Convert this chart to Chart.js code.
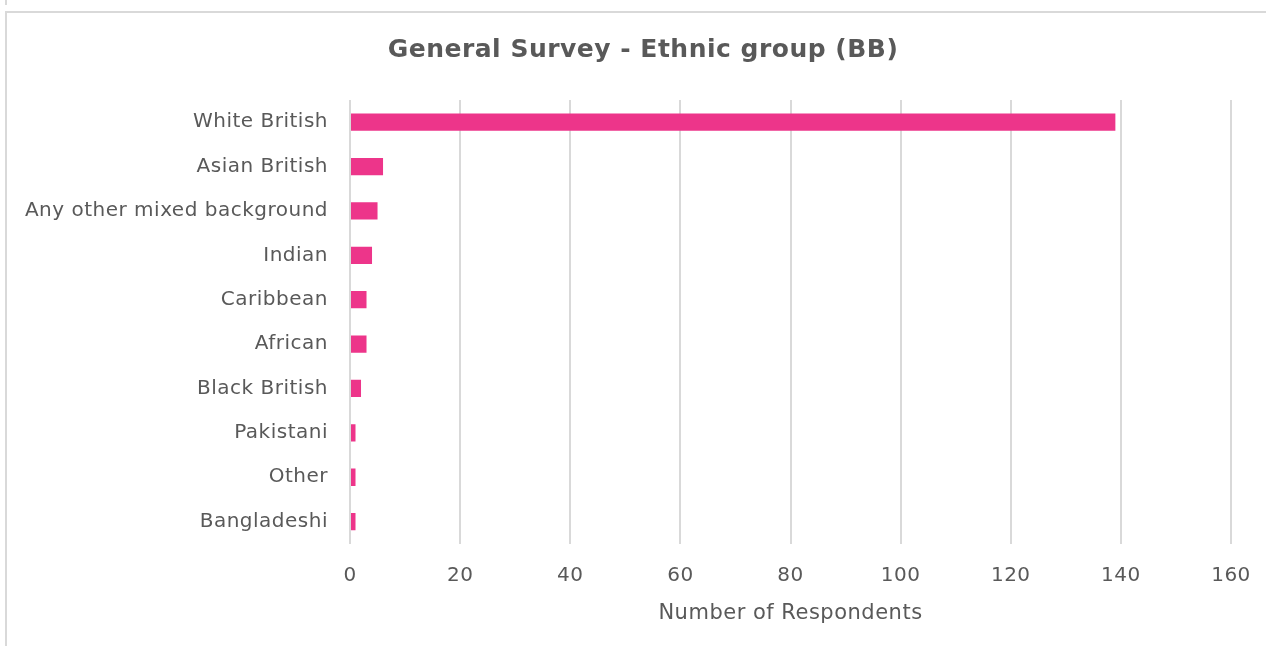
<!DOCTYPE html>
<html lang="en">
<head>
    <meta charset="UTF-8">
    <title>General Survey - Ethnic group (BB)</title>
    <script src="https://cdn.jsdelivr.net/npm/chart.js@4.4.0/dist/chart.umd.min.js"></script>
    <style>
        body {
            margin: 0;
            padding: 0;
            background: #ffffff;
            overflow: hidden;
        }
        .prev-frame {
            position: absolute;
            left: 5px;
            top: 0;
            width: 0;
            height: 5px;
            border-left: 2px solid #d9d9d9;
        }
        .frame {
            position: absolute;
            left: 5px;
            top: 11px;
            width: 1300px;
            height: 700px;
            border-left: 2px solid #d9d9d9;
            border-top: 2px solid #d9d9d9;
        }
        .chart-box {
            position: absolute;
            left: 0;
            top: 0;
            width: 1266px;
            height: 646px;
        }
    </style>
</head>
<body>
    <div class="prev-frame"></div>
    <div class="frame"></div>
    <div class="chart-box">
        <canvas id="ethnicChart" width="1266" height="646"></canvas>
    </div>

    <script>
        // Data
        const categories = ['White British', 'Asian British', 'Any other mixed background', 'Indian',
            'Caribbean', 'African', 'Black British', 'Pakistani', 'Other', 'Bangladeshi'];
        const respondents = [139, 6, 5, 4, 3, 3, 2, 1, 1, 1];
        const xTicks = [0, 20, 40, 60, 80, 100, 120, 140, 160];

        const textColor = '#595959';
        const fontName = "'DejaVu Sans', sans-serif";

        // the original has slightly loose, Excel-style letter spacing on all text
        const spacingPlugin = {
            id: 'letterSpacing',
            beforeUpdate: (chart) => { chart.ctx.letterSpacing = '0.5px'; },
            beforeDraw: (chart) => { chart.ctx.letterSpacing = '0.5px'; }
        };

        const ctx = document.getElementById('ethnicChart').getContext('2d');
        new Chart(ctx, {
            type: 'bar',
            data: {
                labels: categories,
                datasets: [{
                    label: 'Number of Respondents',
                    data: respondents,
                    backgroundColor: '#ED358A',
                    categoryPercentage: 1,
                    barPercentage: 0.39
                }]
            },
            plugins: [spacingPlugin],
            options: {
                indexAxis: 'y',
                responsive: false,
                animation: false,
                layout: {
                    // title is centred over the whole frame, so pad left and let the x axis keep its own right gap
                    padding: { left: 20, right: 0, top: 35, bottom: 20 }
                },
                plugins: {
                    legend: { display: false },
                    tooltip: { enabled: false },
                    title: {
                        display: true,
                        text: 'General Survey - Ethnic group (BB)',
                        color: textColor,
                        font: { family: fontName, size: 25, weight: 'bold' },
                        padding: { top: 0, bottom: 35 }
                    }
                },
                scales: {
                    x: {
                        min: xTicks[0],
                        max: xTicks[xTicks.length - 1],
                        afterBuildTicks: (scale) => {
                            scale.ticks = xTicks.map(v => ({ value: v }));
                        },
                        afterFit: (scale) => { scale.paddingRight = 35; },
                        grid: {
                            color: '#d9d9d9',
                            lineWidth: 2,
                            drawTicks: false
                        },
                        border: { display: false },
                        ticks: {
                            color: textColor,
                            padding: 20,
                            font: { family: fontName, size: 20 }
                        },
                        title: {
                            display: true,
                            text: 'Number of Respondents',
                            color: textColor,
                            font: { family: fontName, size: 21 },
                            padding: { top: -7, bottom: 0 }
                        }
                    },
                    y: {
                        grid: { display: false, drawTicks: false },
                        border: { display: false },
                        afterFit: (scale) => { scale.width = 330; },
                        ticks: {
                            color: textColor,
                            padding: 22,
                            font: { family: fontName, size: 20 }
                        }
                    }
                }
            }
        });
    </script>
</body>
</html>
